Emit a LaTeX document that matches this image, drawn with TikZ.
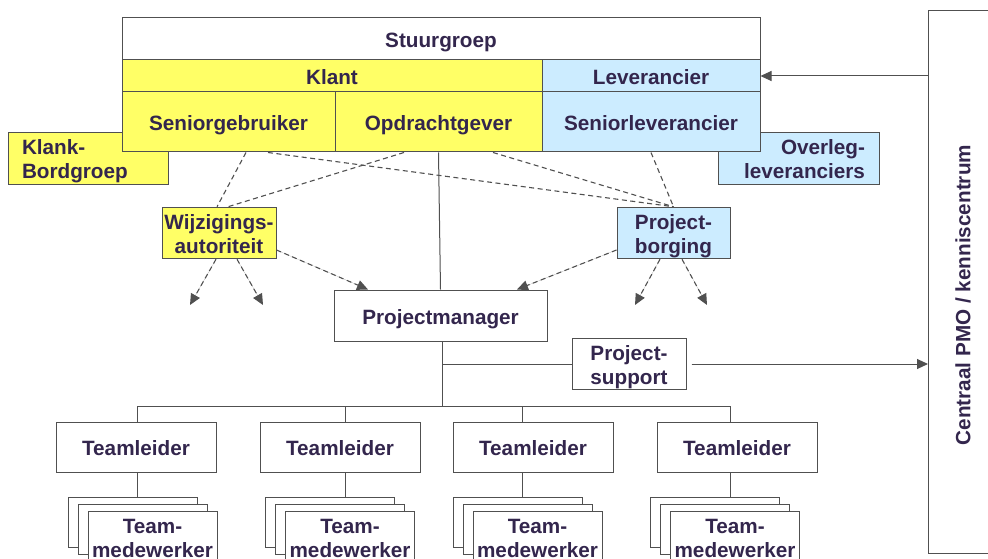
\documentclass[tikz,border=0pt]{standalone}
\usepackage{fontspec}
\setmainfont{Liberation Sans}
\usetikzlibrary{arrows.meta,calc}
\definecolor{yel}{HTML}{FFFF66}
\definecolor{blu}{HTML}{CCECFF}
\definecolor{txt}{HTML}{33264D}
\definecolor{linec}{HTML}{505050}
\newcommand{\fstrut}{\rule{0pt}{22pt}}
\newcommand{\fstrutb}{\rule{0pt}{21.5pt}}
\newcommand{\lstrut}{\rule[-5pt]{0pt}{0pt}}
\begin{document}
\begin{tikzpicture}[x=1pt,y=-1pt,
  frame/.style={draw=linec, line width=1pt, inner sep=0pt, text=txt, align=center,
    font=\fontsize{20.7}{24.5}\selectfont\bfseries},
  box/.style={frame, execute at begin node=\fstrut, execute at end node=\lstrut},
  conn/.style={draw=linec, line width=1pt},
  dsh/.style={draw=linec, line width=1.1pt, dash pattern=on 5pt off 3.5pt},
  tip/.style={-{Triangle[length=11pt,width=10pt]}, fill=linec},
]
\useasboundingbox (0,0) rectangle (988,559);
\clip (0,0) rectangle (988,559);

% side groups (behind the steering group block)
\node[frame, fill=yel, minimum width=160pt, minimum height=51pt, text width=132pt,
      inner xsep=14pt, align=left] (kb) at (88,158.5) {\fstrutb Klank-\\Bordgroep\lstrut};
\node[frame, fill=blu, minimum width=161pt, minimum height=51pt, text width=133pt,
      inner xsep=14pt, align=right] (ol) at (798.5,158.5) {\fstrutb Overleg-\\leveranciers\lstrut};

% steering group
\node[box, fill=white, minimum width=638pt, minimum height=42pt] (st) at (441,39) {Stuurgroep};
\node[box, fill=yel, minimum width=420pt, minimum height=32pt] (kl) at (332,76) {Klant};
\node[box, fill=blu, minimum width=218pt, minimum height=32pt] (lev) at (651,76) {Leverancier};
\node[box, fill=yel, minimum width=213pt, minimum height=60pt] (sg) at (228.5,122) {Seniorgebruiker};
\node[box, fill=yel, minimum width=207pt, minimum height=60pt] (og) at (438.5,122) {Opdrachtgever};
\node[box, fill=blu, minimum width=218pt, minimum height=60pt] (sl) at (651,122) {Seniorleverancier};

% middle level
\node[frame, fill=yel, minimum width=114pt, minimum height=50pt] (wa) at (219,233) {\fstrut Wijzigings-\\autoriteit\lstrut};
\node[frame, fill=blu, minimum width=113pt, minimum height=50pt] (pb) at (673.5,233) {\fstrut Project-\\borging\lstrut};
\node[box, fill=white, minimum width=213pt, minimum height=51pt] (pm) at (440.5,315.5) {Projectmanager};
\node[frame, fill=white, minimum width=114pt, minimum height=50pt] (ps) at (629,364) {\fstrut Project-\\support\lstrut};

% central PMO
\node[frame, fill=white, minimum width=80pt, minimum height=543pt, anchor=north west] (pmo) at (928,10) {};
\node[text=txt, font=\fontsize{20.7}{24.5}\selectfont\bfseries, rotate=90, inner sep=0pt] (pmotext) at (963,295)
  {Centraal PMO / kenniscentrum};

% solid connectors
\draw[conn] (og.south) -- (pm.north);
\draw[conn,tip] (pmo.west |- lev.east) -- (lev.east);
\coordinate (pmb) at ([xshift=2pt]pm.south);
\coordinate (j) at (pmb |- ps.west);
\coordinate (bar) at (pmb |- 0,406);
\draw[conn] (pmb) -- (bar);
\draw[conn] (j) -- (ps.west);
\draw[conn,tip] ([xshift=5pt]ps.east) -- (pmo.west |- ps.east);
\coordinate (b1) at (137,406);
\coordinate (b4) at (730,406);
\draw[conn] (b1) -- (b4);

% teams
\foreach \i/\tx/\lx/\sx in {1/136/137/132.5, 2/340/345/330, 3/533/522/517.5, 4/737/730/715} {
  \node[box, fill=white, minimum width=160pt, minimum height=50pt] (tl\i) at (\tx,447) {Teamleider};
  \node[frame, fill=white, minimum width=129pt, minimum height=50pt] (tb\i) at (\sx,522) {};
  \node[frame, fill=white, minimum width=129pt, minimum height=50pt] (tm\i) at (\sx+10,529.5) {};
  \node[frame, fill=white, minimum width=129pt, minimum height=50pt] (tf\i) at (\sx+20,537) {\fstrut Team-\\medewerker\lstrut};
  \coordinate (lt\i) at (\lx,406);
  \draw[conn] (lt\i) -- (lt\i |- tl\i.north);
  \draw[conn] (lt\i |- tl\i.south) -- (lt\i |- tb\i.north);
}

% dashed lines to the middle level
\draw[dsh] ([xshift=17.5pt]sg.south) -- ([xshift=-2pt]wa.north);
\draw[dsh] ([xshift=-34.5pt]og.south) -- ([xshift=9pt]wa.north);
\draw[dsh] ([xshift=39.5pt]sg.south) -- (pb.north);
\draw[dsh] ([xshift=54.5pt]og.south) -- (pb.north);
\draw[dsh] (sl.south) -- (pb.north);

% dashed arrows
\coordinate (wa1) at (190,305);
\coordinate (wa2) at (263,305);
\coordinate (pb1) at (635,305);
\coordinate (pb2) at (707,305);
\draw[dsh,tip] ([xshift=-3pt]wa.south) -- (wa1);
\draw[dsh,tip] ([xshift=18pt]wa.south) -- (wa2);
\draw[dsh,tip] ([yshift=-17pt]wa.east) -- ([xshift=-72.5pt]pm.north);
\draw[dsh,tip] ([yshift=-17pt]pb.west) -- ([xshift=76.5pt]pm.north);
\draw[dsh,tip] ([xshift=-13.5pt]pb.south) -- (pb1);
\draw[dsh,tip] ([xshift=8.5pt]pb.south) -- (pb2);
\end{tikzpicture}
\end{document}
